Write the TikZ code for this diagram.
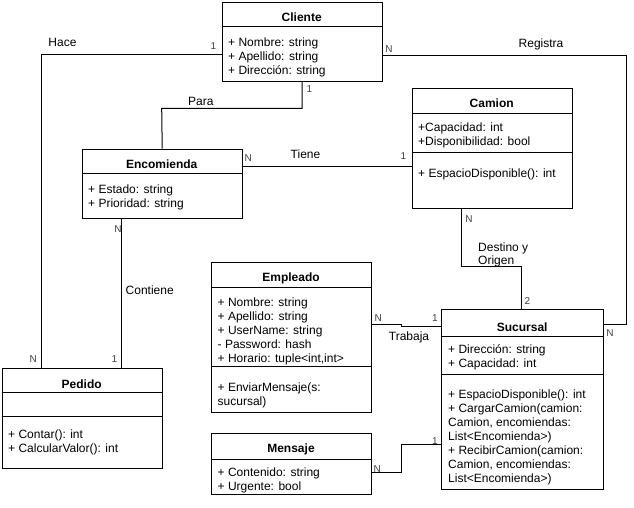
\documentclass[tikz,border=0pt]{standalone}
\usepackage{fontspec}
\setmainfont{Liberation Sans}
\begin{document}
\begin{tikzpicture}[x=1pt,y=-1pt,
  cls/.style={draw, line width=1pt, inner sep=0pt, anchor=north west},
  sepline/.style={line width=1pt},
  conn/.style={line width=1pt},
  hdr/.style={font=\bfseries\fontsize{12}{14}\selectfont, anchor=base, inner sep=0pt},
  txt/.style={font=\fontsize{12}{14}\selectfont, anchor=base west, inner sep=0pt, align=left},
  rel/.style={font=\fontsize{12}{14}\selectfont, anchor=base, inner sep=0pt},
  mult/.style={font=\fontsize{10}{12}\selectfont, text=black!75, anchor=base, inner sep=0pt}]
\useasboundingbox (0,0) rectangle (634,508);

% Cliente
\node[cls, minimum width=160pt, minimum height=79pt] (cliente) at (221.7,2) {};
\draw[sepline] (cliente.west |- 0,27) -- (cliente.east |- 0,27);
\node[hdr] (clienteh) at (301.7,21.5) {Cliente};
\node[txt] (clientea) at (228,74.6) {+ Nombre: string\\+ Apellido: string\\+ Dirección: string};

% Camion
\node[cls, minimum width=160pt, minimum height=120.3pt] (camion) at (411.7,87.7) {};
\draw[sepline] (camion.west |- 0,113.7) -- (camion.east |- 0,113.7);
\draw[sepline] (camion.west |- 0,152.3) -- (camion.east |- 0,152.3);
\node[hdr] (camionh) at (491.7,107.5) {Camion};
\node[txt] (camiona) at (418,146) {+Capacidad: int\\+Disponibilidad: bool};
\node[txt] (camionm) at (418,177.3) {+ EspacioDisponible(): int};

% Encomienda
\node[cls, minimum width=160pt, minimum height=69.6pt] (encomienda) at (81.7,148.7) {};
\draw[sepline] (encomienda.west |- 0,173.7) -- (encomienda.east |- 0,173.7);
\node[hdr] (encomiendah) at (161.7,168.3) {Encomienda};
\node[txt] (encomiendaa) at (88,207.3) {+ Estado: string\\+ Prioridad: string};

% Pedido
\node[cls, minimum width=160pt, minimum height=100pt] (pedido) at (1.7,367.7) {};
\draw[sepline] (pedido.west |- 0,392.3) -- (pedido.east |- 0,392.3);
\draw[sepline] (pedido.west |- 0,416.7) -- (pedido.east |- 0,416.7);
\node[hdr] (pedidoh) at (81.7,388.5) {Pedido};
\node[txt] (pedidom) at (8,452.3) {+ Contar(): int\\+ CalcularValor(): int};

% Empleado
\node[cls, minimum width=160pt, minimum height=150pt] (empleado) at (211,261.7) {};
\draw[sepline] (empleado.west |- 0,287.3) -- (empleado.east |- 0,287.3);
\draw[sepline] (empleado.west |- 0,366.7) -- (empleado.east |- 0,366.7);
\node[hdr] (empleadoh) at (291,281) {Empleado};
\node[txt] (empleadoa) at (217.5,362) {+ Nombre: string\\+ Apellido: string\\+ UserName: string\\- Password: hash\\+ Horario: tuple<int,int>};
\node[txt] (empleadom) at (217.5,405.5) {+ EnviarMensaje(s:\\sucursal)};

% Mensaje
\node[cls, minimum width=160pt, minimum height=61.6pt] (mensaje) at (211,432.7) {};
\draw[sepline] (mensaje.west |- 0,459.3) -- (mensaje.east |- 0,459.3);
\node[hdr] (mensajeh) at (291,452.5) {Mensaje};
\node[txt] (mensajea) at (217.5,490) {+ Contenido: string\\+ Urgente: bool};

% Sucursal
\node[cls, minimum width=162.3pt, minimum height=180pt] (sucursal) at (441,309.3) {};
\draw[sepline] (sucursal.west |- 0,336) -- (sucursal.east |- 0,336);
\draw[sepline] (sucursal.west |- 0,374) -- (sucursal.east |- 0,374);
\node[hdr] (sucursalh) at (522.2,331) {Sucursal};
\node[txt] (sucursala) at (448,367.3) {+ Dirección: string\\+ Capacidad: int};
\node[txt] (sucursalm) at (448,482.3) {+ EspacioDisponible(): int\\+ CargarCamion(camion:\\Camion, encomiendas:\\List<Encomienda>)\\+ RecibirCamion(camion:\\Camion, encomiendas:\\List<Encomienda>)};

% Connectors
\draw[conn] (cliente.west |- 0,54.3) -| (pedido.north -| 41.7,0);
\draw[conn] (cliente.south) |- (161.7,108.3) -- (encomienda.north);
\draw[conn] (encomienda.east |- 0,166.3) -- (camion.west |- 0,166.3);
\draw[conn] (cliente.east |- 0,55.7) -| (626,324.3) -- (sucursal.east |- 0,324.3);
\draw[conn] (camion.south -| 461.7,0) |- (521.7,266) -- (sucursal.north -| 521.7,0);
\draw[conn] (empleado.east |- 0,324.3) -- (401.7,324.3) -- (401.7,326.7) -- (sucursal.west |- 0,326.7);
\draw[conn] (mensaje.east |- 0,472.3) -| (401.7,444.3) -- (sucursal.west |- 0,444.3);
\draw[conn] (encomienda.south -| 121.7,0) -- (pedido.north -| 121.7,0);

% Relationship labels
\node[rel] (lhace) at (62.5,46.5) {Hace};
\node[rel] (lpara) at (200.8,106) {Para};
\node[rel] (ltiene) at (305.5,158.3) {Tiene};
\node[rel] (lregistra) at (541,47.6) {Registra};
\node[rel] (lcontiene) at (149.7,294.3) {Contiene};
\node[rel] (ltrabaja) at (409,340) {Trabaja};
\node[txt, font=\fontsize{12}{12.5}\selectfont] (ldestino) at (478,264) {Destino y\\Origen};

% Multiplicities
\node[mult] (m1) at (213.3,49.6) {1};
\node[mult] (m2) at (309.3,92.9) {1};
\node[mult] (m3) at (248.3,161.6) {N};
\node[mult] (m4) at (403.3,159.6) {1};
\node[mult] (m5) at (389,52.9) {N};
\node[mult] (m6) at (469,222.6) {N};
\node[mult] (m7) at (527.3,304.3) {2};
\node[mult] (m8) at (610,336.9) {N};
\node[mult] (m9) at (378.3,321.9) {N};
\node[mult] (m10) at (435,321.9) {1};
\node[mult] (m11) at (435,444.3) {1};
\node[mult] (m12) at (377.3,472.9) {N};
\node[mult] (m13) at (118,232.6) {N};
\node[mult] (m14) at (114.3,362.9) {1};
\node[mult] (m15) at (33.3,362.9) {N};
\end{tikzpicture}
\end{document}
